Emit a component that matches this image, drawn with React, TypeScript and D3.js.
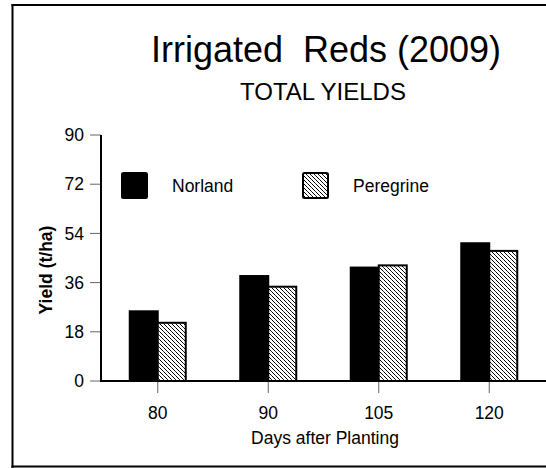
import React from "react";
import * as d3 from "d3";

const categories = ["80", "90", "105", "120"];
const norland = [25.5, 38.4, 41.5, 50.4];
const peregrine = [21.3, 34.5, 42.3, 47.6];
const yTicks = [0, 18, 36, 54, 72, 90];
const seriesNames = ["Norland", "Peregrine"];

export default function App() {
  const W = 546, H = 468;
  const x = d3.scaleBand<string>().domain(categories).range([102.5, 544.5]).padding(0);
  const y = d3.scaleLinear().domain([0, 90]).range([381, 135]);
  const bw = 28;
  const font = "Liberation Sans, Arial, Helvetica, sans-serif";
  return (
    <div style={{ position: "absolute", left: 0, top: 0, width: W, height: H, overflow: "hidden", background: "#fff" }}>
      <svg width={W} height={H} style={{ display: "block" }} fontFamily={font}>
        <defs>
          <pattern id="hatch" width="4" height="4" patternUnits="userSpaceOnUse">
            <rect width="4" height="4" fill="#fff" />
            <rect x="0" y="0" width="1" height="1" fill="#000" />
            <rect x="1" y="1" width="1" height="1" fill="#000" />
            <rect x="2" y="2" width="1" height="1" fill="#000" />
            <rect x="3" y="3" width="1" height="1" fill="#333" />
          </pattern>
        </defs>
        <rect x={11.5} y={4} width={W} height={2} fill="#000" />
        <rect x={11.5} y={4} width={2} height={464} fill="#000" />
        <rect x={11.5} y={465.5} width={W} height={2} fill="#000" />
        <text x={326} y={62} fontSize={36} textAnchor="middle" fill="#000" style={{ whiteSpace: "pre" }}>Irrigated  Reds (2009)</text>
        <text x={323} y={100} fontSize={24} textAnchor="middle" fill="#000">TOTAL YIELDS</text>
        {yTicks.map((t) => (
          <g key={t}>
            <rect x={90} y={y(t) - 0.5} width={11} height={1} fill="#666" />
            <text x={84} y={y(t)} dy="0.35em" fontSize={17.5} textAnchor="end" fill="#000">{t}</text>
          </g>
        ))}
        {categories.map((c) => {
          const cx = (x(c) as number) + x.bandwidth() / 2;
          return (
            <g key={c}>
              <rect x={cx - 0.5} y={381} width={1} height={12} fill="#666" />
              <text x={cx} y={419} fontSize={17.5} textAnchor="middle" fill="#000">{c}</text>
            </g>
          );
        })}
        {categories.map((c, i) => {
          const cx = (x(c) as number) + x.bandwidth() / 2;
          return (
            <g key={"b" + c}>
              <rect x={cx - bw} y={y(norland[i])} width={bw} height={y(0) - y(norland[i])} fill="#000" stroke="#000" strokeWidth={2} />
              <rect x={cx} y={y(peregrine[i])} width={bw} height={y(0) - y(peregrine[i])} fill="url(#hatch)" stroke="#000" strokeWidth={2} />
            </g>
          );
        })}
        <rect x={100} y={135} width={2} height={247} fill="#000" />
        <rect x={100} y={380} width={W} height={2} fill="#000" />
        <text x={325} y={444} fontSize={17.5} textAnchor="middle" fill="#000">Days after Planting</text>
        <text transform="translate(52,270) rotate(-90)" fontSize={17.5} fontWeight="bold" textAnchor="middle" fill="#000">Yield (t/ha)</text>
        <rect x={122} y={173} width={25} height={25} rx={1.5} fill="#000" stroke="#000" strokeWidth={2} />
        <text x={172} y={185.5} dy="0.35em" fontSize={17.5} fill="#000">{seriesNames[0]}</text>
        <rect x={303} y={173} width={25} height={25} rx={1.5} fill="url(#hatch)" stroke="#000" strokeWidth={2} />
        <text x={353} y={185.5} dy="0.35em" fontSize={17.5} fill="#000">{seriesNames[1]}</text>
      </svg>
    </div>
  );
}
